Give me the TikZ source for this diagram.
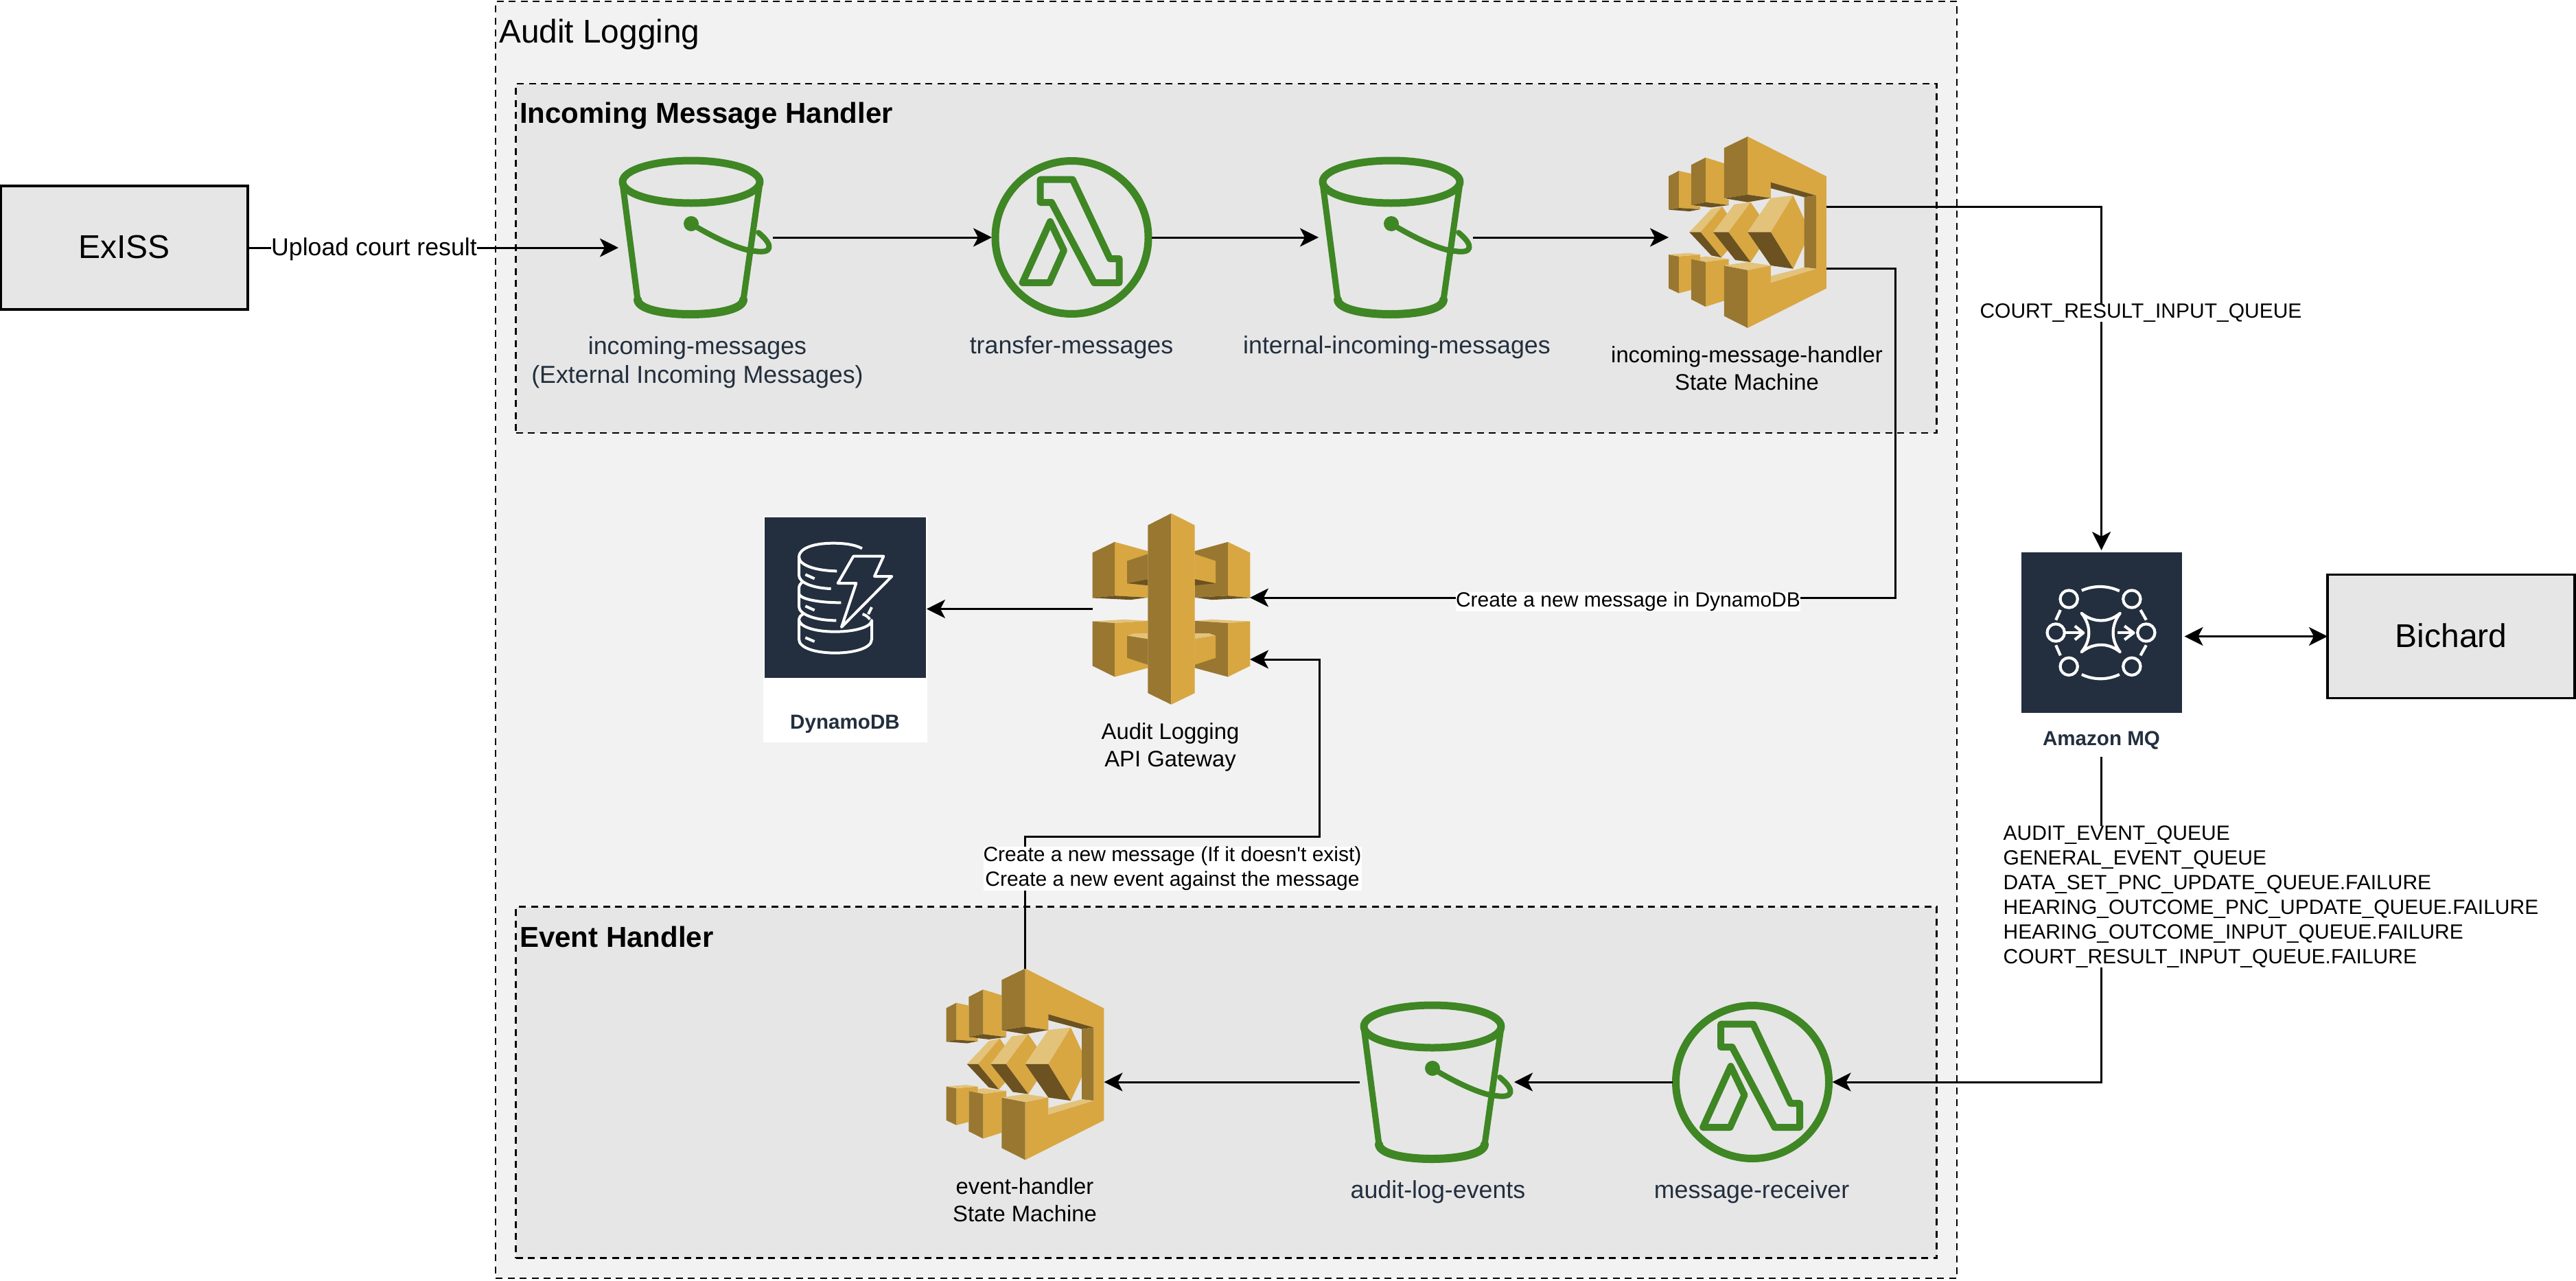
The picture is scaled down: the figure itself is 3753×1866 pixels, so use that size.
\documentclass[tikz,border=0pt]{standalone}
\usepackage{fontspec}
\setmainfont{Liberation Sans}
\usetikzlibrary{arrows.meta,positioning}
\definecolor{awsgold}{HTML}{D8A741}
\definecolor{awsside}{HTML}{997730}
\definecolor{awsshade}{HTML}{6B5220}
\definecolor{awstop}{HTML}{E3C27A}
\definecolor{awsgreen}{HTML}{3F8624}
\definecolor{awsnavy}{HTML}{232F3E}
\definecolor{groupouter}{HTML}{F2F2F2}
\definecolor{groupinner}{HTML}{E6E6E6}
\tikzset{
    flow/.style={line width=3pt,-{Stealth[length=27pt,width=27pt,inset=7pt]}},
    twoway/.style={line width=3pt,{Stealth[length=27pt,width=27pt,inset=7pt]}-{Stealth[length=27pt,width=27pt,inset=7pt]}},
    group/.style={draw,line width=2.5pt,dash pattern=on 10pt off 7.5pt,inner sep=0,outer sep=0},
    extbox/.style={draw,line width=3.3pt,fill=groupinner,inner sep=0,outer sep=0,minimum width=359.5pt,minimum height=180pt,font=\fontsize{48}{56}\selectfont},
    iconbox/.style={inner sep=0,outer sep=0},
    iconlabel/.style={inner sep=0,text=awsnavy,align=center,font=\fontsize{35.8}{42}\selectfont},
    machinelabel/.style={inner sep=0,align=center,font=\fontsize{32.8}{40}\selectfont},
    edgelabel/.style={fill=white,inner sep=0,align=center,font=\fontsize{30}{36}\selectfont},
    pics/bucket/.style={code={
        \begin{scope}[shift={(-1013.5,-346)},draw=awsgreen,line cap=round,line join=round]
            \draw[line width=11pt] (1007,265) ellipse (100 and 31);
            \draw[line width=9pt] (907,267) -- (929,437);
            \draw[line width=9pt] (1083,437) -- (1107,267);
            \draw[line width=12pt] (929,437) .. controls (931,465) and (1081,465) .. (1083,437);
            \fill[awsgreen] (1007,326) circle (11);
            \draw[line width=8pt] (1010,328) .. controls (1050,352) and (1085,366) .. (1100,366) .. controls (1125,370) and (1128,358) .. (1105,339);
        \end{scope}
    }},
    pics/lambda/.style={code={
        \begin{scope}[shift={(-1561.5,-346)},draw=awsgreen,line join=round]
            \draw[line width=11pt] (1561.5,346) circle (111.5);
            \draw[line width=10pt] (1515.6,261.7) -- (1562.7,261.7) -- (1617,377) -- (1630.5,377) -- (1630.5,412) -- (1594,412) -- (1532,295) -- (1515.6,295) -- cycle;
            \draw[line width=10pt] (1530,323) -- (1550,365) -- (1529,412) -- (1489.6,412) -- cycle;
        \end{scope}
    }},
    pics/stepfn/.style={code={
        \begin{scope}[x=0.3333pt,y=-0.3333pt,shift={(-588.5,-476.5)}]
            \fill[awsgold] (405,150) -- (486,175) -- (486,330) -- (506,333) -- (506,358) -- (405,345) -- cycle;
            \fill[awsside] (342,182) -- (405,150) -- (405,345) -- (342,358) -- cycle;
            \fill[awsshade] (342,358) -- (405,345) -- (506,358) -- (430,368) -- cycle;
            \fill[awsgold] (288,208) -- (342,220) -- (342,358) -- (382,364) -- (382,376) -- (288,370) -- cycle;
            \fill[awsside] (244,231) -- (288,208) -- (288,370) -- (244,378) -- cycle;
            \fill[awsshade] (244,378) -- (288,370) -- (382,376) -- (335,385) -- cycle;
            \fill[awsgold] (405,606) -- (506,593) -- (506,620) -- (486,622) -- (486,776) -- (405,802) -- cycle;
            \fill[awsside] (342,593) -- (405,606) -- (405,802) -- (342,770) -- cycle;
            \fill[awstop] (342,593) -- (405,582) -- (506,593) -- (405,606) -- cycle;
            \fill[awsgold] (288,582) -- (382,574) -- (382,600) -- (342,593) -- (342,729) -- (288,743) -- cycle;
            \fill[awsside] (244,574) -- (288,582) -- (288,743) -- (244,722) -- cycle;
            \fill[awstop] (244,574) -- (330,567) -- (382,574) -- (288,582) -- cycle;
            \fill[awstop] (334,476) -- (430,375) -- (478,364) -- (383,476) -- cycle;
            \fill[awsgold] (383,476) -- (478,364) -- (502,400) -- (438,476) -- (502,555) -- (474,587) -- cycle;
            \fill[awsshade] (334,476) -- (383,476) -- (474,587) -- (430,578) -- cycle;
            \fill[awstop] (438,476) -- (530,355) -- (602,345) -- (505,476) -- cycle;
            \fill[awsgold] (505,476) -- (602,345) -- (640,400) -- (589,476) -- (640,550) -- (602,607) -- cycle;
            \fill[awsshade] (438,476) -- (505,476) -- (602,607) -- (535,598) -- cycle;
            \fill[awstop] (589,476) -- (690,327) -- (788,316) -- (690,476) -- cycle;
            \fill[awsgold] (690,476) -- (788,316) -- (863,476) -- (788,636) -- cycle;
            \fill[awsshade] (589,476) -- (690,476) -- (788,636) -- (690,622) -- cycle;
            \fill[awsgold] (589,58) -- (933,232) -- (933,722) -- (589,895) -- (589,642) -- (690,622) -- (690,697) -- (888,636) -- (888,316) -- (690,258) -- (690,327) -- (589,312) -- cycle;
            \fill[awsside] (486,108) -- (589,58) -- (589,312) -- (486,328) -- cycle;
            \fill[awsside] (486,622) -- (589,642) -- (589,895) -- (486,843) -- cycle;
            \fill[awsshade] (486,328) -- (589,312) -- (690,327) -- (589,345) -- cycle;
            \fill[awstop] (486,622) -- (589,607) -- (690,622) -- (589,642) -- cycle;
            \fill[awsshade] (690,258) -- (888,316) -- (836,323) -- (690,284) -- cycle;
            \fill[awsside] (836,323) -- (888,316) -- (888,636) -- (836,630) -- cycle;
            \fill[awstop] (690,668) -- (836,630) -- (888,636) -- (690,697) -- cycle;
        \end{scope}
    }},
    pics/apigw/.style={code={
        \begin{scope}[x=0.3333pt,y=-0.3333pt,shift={(-363.5,-428)}]
            \fill[awsgold] (116,135) -- (261,175) -- (261,378) -- (116,370) -- cycle;
            \fill[awsside] (19,182) -- (116,135) -- (116,370) -- (19,380) -- cycle;
            \fill[awsside] (170,218) -- (261,188) -- (261,298) -- (170,316) -- cycle;
            \fill[awsshade] (170,316) -- (261,298) -- (261,325) -- cycle;
            \fill[awsshade] (19,380) -- (116,370) -- (261,378) -- (185,388) -- cycle;
            \fill[awsside] (466,175) -- (611,135) -- (611,370) -- (466,378) -- cycle;
            \fill[awsgold] (611,135) -- (708,182) -- (708,380) -- (611,370) -- cycle;
            \fill[awsgold] (466,188) -- (557,218) -- (557,316) -- (466,298) -- cycle;
            \fill[awsshade] (466,298) -- (557,316) -- (466,325) -- cycle;
            \fill[awsshade] (466,378) -- (611,370) -- (708,380) -- (540,388) -- cycle;
            \fill[awstop] (19,482) -- (160,474) -- (261,480) -- (116,490) -- cycle;
            \fill[awsside] (19,482) -- (116,490) -- (116,725) -- (19,677) -- cycle;
            \fill[awsgold] (116,490) -- (261,480) -- (261,686) -- (116,725) -- cycle;
            \fill[awstop] (170,545) -- (200,535) -- (261,535) -- (261,560) -- cycle;
            \fill[awsside] (170,545) -- (261,560) -- (261,672) -- (170,642) -- cycle;
            \fill[awstop] (466,480) -- (540,474) -- (708,482) -- (611,490) -- cycle;
            \fill[awsside] (466,480) -- (611,490) -- (611,725) -- (466,686) -- cycle;
            \fill[awsgold] (611,490) -- (708,482) -- (708,677) -- (611,725) -- cycle;
            \fill[awstop] (466,535) -- (530,535) -- (557,545) -- (466,560) -- cycle;
            \fill[awsgold] (466,560) -- (557,545) -- (557,642) -- (466,672) -- cycle;
            \fill[awsside] (261,62) -- (363,10) -- (363,846) -- (261,796) -- cycle;
            \fill[awsgold] (363,10) -- (466,62) -- (466,796) -- (363,846) -- cycle;
        \end{scope}
    }},
    pics/dynamoicon/.style={code={
        \begin{scope}[x=0.3333pt,y=-0.3333pt,shift={(-244.5,-273)},draw=white,line width=4pt,line join=round]
            \draw (318,58) .. controls (280,38) and (230,35) .. (190,35) .. controls (100,35) and (42,60) .. (42,95) .. controls (42,130) and (110,155) .. (208,157);
            \draw (42,95) -- (42,175) .. controls (42,210) and (110,232) .. (182,234);
            \draw (60,203) .. controls (48,212) and (42,220) .. (42,232) -- (42,255) .. controls (42,275) and (110,295) .. (226,295);
            \draw (42,255) -- (42,312) .. controls (42,345) and (110,373) .. (205,373);
            \draw (60,345) .. controls (48,352) and (42,360) .. (42,368) -- (42,455) .. controls (42,495) and (120,515) .. (200,515) .. controls (280,515) and (360,495) .. (360,455) -- (360,372) .. controls (360,400) and (290,422) .. (200,422) .. controls (110,422) and (42,400) .. (42,368);
            \draw (320,345) .. controls (335,350) and (345,358) .. (352,368);
            \draw (345,345) -- (360,315);
            \draw (70,172) -- (110,190);
            \draw (70,310) -- (110,328);
            \draw (70,448) -- (110,465);
            \draw (280,92) -- (412,92) -- (372,180) -- (448,180) -- (228,402) -- (292,210) -- (212,210) -- cycle;
        \end{scope}
    }},
    pics/mqicon/.style={code={
        \begin{scope}[x=0.3333pt,y=-0.3333pt,shift={(-484,-427)},draw=white,line width=4.2pt,line join=round]
            \draw (342,280) circle (38);
            \draw (617,280) circle (38);
            \draw (285,427) circle (38);
            \draw (680,427) circle (38);
            \draw (342,575) circle (38);
            \draw (617,575) circle (38);
            \draw (398,243) .. controls (450,220) and (510,220) .. (563,245);
            \draw (398,610) .. controls (450,635) and (510,635) .. (563,610);
            \draw (305,328) -- (285,372);
            \draw (655,328) -- (680,372);
            \draw (285,482) -- (305,527);
            \draw (680,482) -- (655,527);
            \draw[line cap=round] (397,342) .. controls (450,385) and (515,385) .. (566,342) .. controls (525,395) and (525,460) .. (566,512) .. controls (515,470) and (450,470) .. (397,512) .. controls (440,460) and (440,395) .. (397,342) -- cycle;
            \draw (325,428) -- (400,428);
            \draw (368,398) -- (405,428) -- (368,458);
            \draw (555,428) -- (620,428);
            \draw (585,398) -- (625,428) -- (585,458);
        \end{scope}
    }},
}
\begin{document}
\begin{tikzpicture}[x=1pt,y=-1pt]
        \useasboundingbox (0,0) rectangle (3753,1866);
        \node[group,fill=groupouter,minimum width=2129pt,minimum height=1861pt] (auditgroup) at (1786.5,932.5) {};
        \node[group,fill=groupinner,minimum width=2070pt,minimum height=509pt] (incominggroup) at (1786.5,376.5) {};
        \node[group,fill=groupinner,minimum width=2070pt,minimum height=512pt] (eventgroup) at (1786.5,1577.5) {};
        \node[inner sep=0,anchor=west,font=\fontsize{47.8}{56}\selectfont] (auditlabel) at (727,50) {Audit Logging};
        \node[inner sep=0,anchor=west,font=\bfseries\fontsize{42}{50}\selectfont] (incominglabel) at (757,169) {Incoming Message Handler};
        \node[inner sep=0,anchor=west,font=\bfseries\fontsize{42}{50}\selectfont] (eventlabel) at (757,1365) {Event Handler};

        \node[extbox] (exiss) at (181.25,361) {\raisebox{3pt}{ExISS}};
        \node[extbox,minimum width=360pt] (bichard) at (3571,927.5) {\raisebox{2pt}{Bichard}};

        \node[iconbox,minimum width=225pt,minimum height=234pt] (incomingbucket) at (1013.5,346) {};
        \pic at (incomingbucket) {bucket};
        \node[iconbox,minimum width=233pt,minimum height=234pt] (transferlambda) at (1561.5,346) {};
        \pic at (transferlambda) {lambda};
        \node[iconbox,minimum width=225pt,minimum height=234pt] (internalbucket) at (2033.5,346) {};
        \pic at (internalbucket) {bucket};
        \node[iconbox,minimum width=230pt,minimum height=279pt] (incomingstate) at (2546,338.5) {};
        \pic at (incomingstate) {stepfn};
        \node[iconbox,minimum width=229pt,minimum height=279pt] (gateway) at (1706.5,887.5) {};
        \pic at (gateway) {apigw};
        \node[iconbox,fill=white,minimum width=239pt,minimum height=330pt] (dynamo) at (1231.5,917) {};
        \node[iconbox,fill=awsnavy,minimum width=235pt,minimum height=234pt] (dynamobox) at (1231.5,871) {};
        \pic at (dynamobox) {dynamoicon};
        \node[inner sep=0,text=awsnavy,font=\bfseries\fontsize{29.6}{36}\selectfont] (dynamolabel) at (1231,1055) {DynamoDB};
        \node[iconbox,fill=awsnavy,minimum width=234pt,minimum height=234pt] (mq) at (3061.5,922) {};
        \pic at (mq) {mqicon};
        \node[inner sep=0,text=awsnavy,minimum height=48pt,font=\bfseries\fontsize{29.6}{36}\selectfont] (mqlabel) at (3061.5,1079) {Amazon MQ};
        \node[iconbox,minimum width=233pt,minimum height=234pt] (receiverlambda) at (2553,1577) {};
        \pic at (receiverlambda) {lambda};
        \node[iconbox,minimum width=225pt,minimum height=234pt] (eventbucket) at (2093.5,1577) {};
        \pic at (eventbucket) {bucket};
        \node[iconbox,minimum width=230pt,minimum height=279pt] (eventstate) at (1493.5,1551) {};
        \pic at (eventstate) {stepfn};

        \node[iconlabel] (incomingtext) at (1016,528) {incoming-messages\\(External Incoming Messages)};
        \node[iconlabel] (transfertext) at (1561,506) {transfer-messages};
        \node[iconlabel] (internaltext) at (2035,506) {internal-incoming-messages};
        \node[machinelabel] (statetext) at (2545,537) {incoming-message-handler\\State Machine};
        \node[machinelabel] (gatewaytext) at (1705,1089) {Audit Logging\\API Gateway};
        \node[machinelabel] (eventstatetext) at (1493,1749) {event-handler\\State Machine};
        \node[iconlabel] (eventbuckettext) at (2095,1737) {audit-log-events};
        \node[iconlabel] (receivertext) at (2552,1737) {message-receiver};

        \coordinate (statebend) at (2761.5,871);
        \coordinate (eventbend) at (1922,1219);
        \draw[flow] (exiss.east) -- (exiss.east -| incomingbucket.west);
        \draw[flow] (incomingbucket.east) -- (transferlambda.west);
        \draw[flow] (transferlambda.east) -- (internalbucket.west);
        \draw[flow] (internalbucket.east) -- (internalbucket.east -| incomingstate.west);
        \draw[flow,shorten >=3pt] ([yshift=37.5pt]incomingstate.east) -| (mq.north);
        \draw[flow] ([yshift=-52.5pt]incomingstate.east) -| (statebend) -- ([yshift=16.5pt]gateway.east);
        \draw[flow,shorten >=-1pt] (gateway.west) -- (gateway.west -| dynamo.east);
        \draw[flow] (mqlabel.south) |- (receiverlambda.east);
        \draw[flow] (receiverlambda.west) -- (eventbucket.east);
        \draw[flow] (eventbucket.west) -- (eventstate.east |- eventbucket.west);
        \draw[flow] (eventstate.north) |- (eventbend) |- ([yshift=-73.5pt]gateway.east);
        \draw[twoway,shorten >=4pt] (bichard.west) -- (bichard.west -| mq.east);

        \node[edgelabel,font=\fontsize{35.7}{42}\selectfont] (uploadtext) at (545,363) {Upload court result};
        \node[edgelabel] (courttext) at (3119,456) {COURT\_RESULT\_INPUT\_QUEUE};
        \node[edgelabel] (newmessagetext) at (2372,877) {Create a new message in DynamoDB};
        \node[edgelabel] (neweventtext) at (1708,1266) {Create a new message (If it doesn\textquotesingle t exist)\\Create a new event against the message};
        \node[edgelabel,align=left] (queuetext) at (3308.5,1307) {AUDIT\_EVENT\_QUEUE\\GENERAL\_EVENT\_QUEUE\\DATA\_SET\_PNC\_UPDATE\_QUEUE.FAILURE\\HEARING\_OUTCOME\_PNC\_UPDATE\_QUEUE.FAILURE\\HEARING\_OUTCOME\_INPUT\_QUEUE.FAILURE\\COURT\_RESULT\_INPUT\_QUEUE.FAILURE};
    \end{tikzpicture}
\end{document}
